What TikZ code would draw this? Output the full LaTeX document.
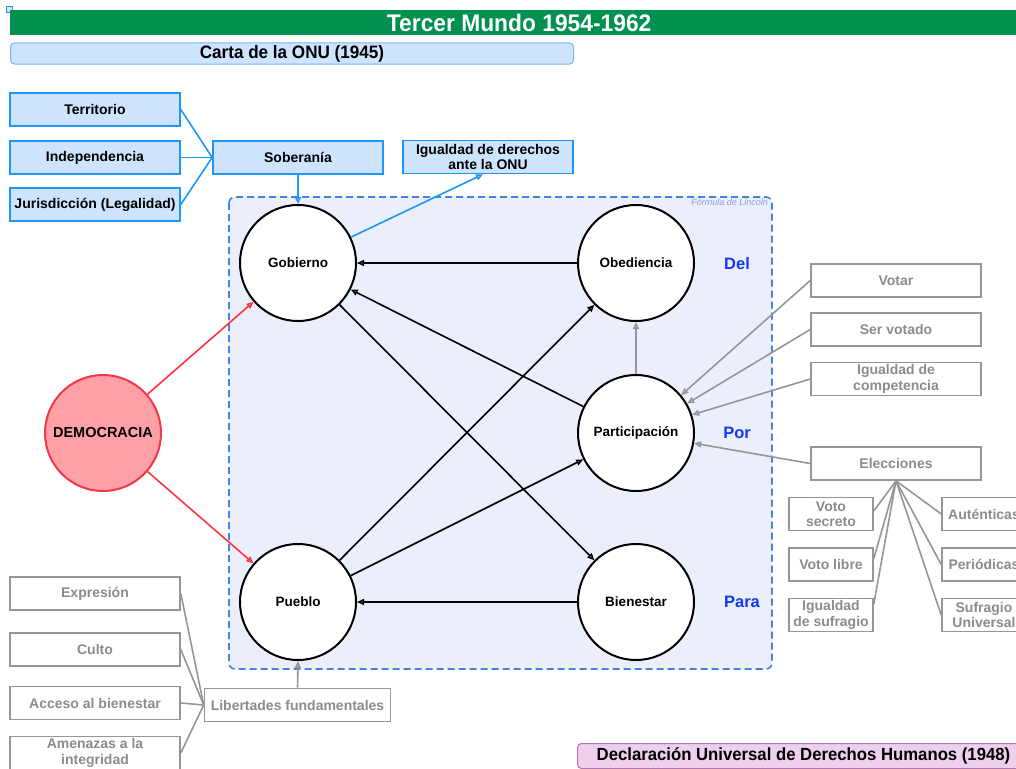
\documentclass[tikz,border=0pt]{standalone}
\usepackage{fontspec}
\setmainfont{Liberation Sans}
\newfontfamily\condfont[FakeStretch=0.95]{Liberation Sans}
\usetikzlibrary{arrows.meta}
\definecolor{titlegreen}{RGB}{0,145,80}
\definecolor{fillblue}{RGB}{205,228,252}
\definecolor{boxblue}{RGB}{30,150,250}
\definecolor{cartaborder}{RGB}{120,180,250}
\definecolor{frameblue}{RGB}{70,130,225}
\definecolor{framefill}{RGB}{234,239,251}
\definecolor{lincoln}{RGB}{140,155,230}
\definecolor{grayline}{RGB}{150,150,150}
\definecolor{graytext}{RGB}{140,140,140}
\definecolor{demfill}{RGB}{255,160,166}
\definecolor{demline}{RGB}{240,56,72}
\definecolor{demarrow}{RGB}{255,50,64}
\definecolor{dpblue}{RGB}{20,55,240}
\definecolor{declfill}{RGB}{238,208,238}
\definecolor{declborder}{RGB}{175,120,175}
\tikzset{
  bluebox/.style={draw=boxblue, fill=fillblue, line width=1.6pt, minimum width=170pt,
    minimum height=33pt, inner sep=0pt, align=center,
    font=\bfseries\fontsize{14}{15.5}\selectfont},
  graybox/.style={draw=grayline, fill=white, line width=1.6pt, minimum width=170pt,
    minimum height=33pt, inner sep=0pt, align=center, text=graytext,
    font=\bfseries\fontsize{14}{15.5}\selectfont},
  smallgray/.style={graybox, minimum width=84pt},
  circ/.style={circle, draw=black, fill=white, line width=2pt, minimum size=116pt,
    inner sep=0pt, font=\bfseries\fontsize{13.5}{15}\selectfont},
  openarrow/.style={-{Triangle[open,length=7pt,width=6pt]}, line width=1.6pt},
  dpl/.style={text=dpblue, font=\bfseries\fontsize{16.5}{18}\selectfont},
  banner/.style={inner sep=0pt, font=\condfont\bfseries\fontsize{18}{20}\selectfont}
}
\begin{document}
\begin{tikzpicture}[x=1pt,y=-1pt]
\useasboundingbox (0,0) rectangle (1016,768);
\clip (0,0) rectangle (1016,768);

% corner handle
\node[draw=boxblue, fill=fillblue, line width=0.8pt, minimum size=6pt, inner sep=0pt] (handle) at (9,9) {};

% headers
\node[banner, fill=titlegreen, text=white, minimum width=1018pt, minimum height=25pt,
  anchor=west, font=\condfont\bfseries\fontsize{24}{26}\selectfont] (title) at (10,22.5) {Tercer Mundo 1954-1962};
\node[banner, draw=cartaborder, fill=fillblue, rounded corners=4pt, line width=1pt,
  minimum width=563pt, minimum height=21pt, anchor=west] (carta) at (10,53.5) {Carta de la ONU (1945)};
\node[banner, draw=declborder, fill=declfill, rounded corners=4pt, line width=1pt,
  minimum width=452pt, minimum height=25pt, anchor=west, font=\condfont\bfseries\fontsize{17.6}{20}\selectfont] (decl) at (577,756) {Declaración Universal de Derechos Humanos (1948)};

% frame of the Lincoln formula
\draw[frameblue, fill=framefill, line width=1.6pt, dash pattern=on 7pt off 4pt, rounded corners=6pt]
  (229,197) rectangle (772,669);
\node[anchor=north east, inner sep=0pt, text=lincoln, font=\itshape\fontsize{9}{10}\selectfont] (lincoln) at (768,199) {Fórmula de Lincoln};

% sovereignty boxes
\node[bluebox] (terr) at (95,109.5) {Territorio};
\node[bluebox] (indep) at (95,157.5) {Independencia};
\node[bluebox] (juris) at (95,204.5) {Jurisdicción (Legalidad)};
\node[bluebox] (sob) at (298,157.5) {Soberanía};
\node[bluebox] (igu) at (488,157) {Igualdad de derechos\\ante la ONU};

% circles
\node[circ] (gob) at (298,263) {Gobierno};
\node[circ] (obe) at (636,263) {Obediencia};
\node[circ] (par) at (636,433) {Participación};
\node[circ] (pue) at (298,602) {Pueblo};
\node[circ] (bie) at (636,602) {Bienestar};
\node[circ, fill=demfill, draw=demline, font=\bfseries\fontsize{14.5}{16}\selectfont] (dem) at (103,433) {DEMOCRACIA};

\node[dpl] (del) at (737,264) {Del};
\node[dpl] (por) at (737,433) {Por};
\node[dpl] (para) at (742,602) {Para};

% right-hand boxes
\node[graybox] (votar) at (896,280.5) {Votar};
\node[graybox] (servot) at (896,329.5) {Ser votado};
\node[graybox] (igcomp) at (896,379) {Igualdad de\\competencia};
\node[graybox] (elec) at (896,463.5) {Elecciones};
\node[smallgray] (vsec) at (831,514) {Voto\\secreto};
\node[smallgray] (vlib) at (831,564.5) {Voto libre};
\node[smallgray] (igsuf) at (831,615) {Igualdad\\de sufragio};
\node[smallgray] (aut) at (984,514) {Auténticas};
\node[smallgray] (per) at (984,564.5) {Periódicas};
\node[smallgray] (sufu) at (984,615) {Sufragio\\Universal};

% lower-left boxes
\node[graybox] (expr) at (95,593.5) {Expresión};
\node[graybox] (culto) at (95,649.5) {Culto};
\node[graybox] (acceso) at (95,703) {Acceso al bienestar};
\node[graybox] (amen) at (95,753) {Amenazas a la\\integridad};
\node[graybox, minimum width=186pt] (lib) at (297.5,705) {Libertades fundamentales};

% blue connectors
\begin{scope}[boxblue, line width=1.6pt]
  \draw (terr.east) -- (sob.west);
  \draw (indep.east) -- (sob.west);
  \draw (juris.east) -- (sob.west);
  \draw[openarrow] (sob.south) -- (gob.north);
  \draw[openarrow] (gob.26) -- ([xshift=-5pt]igu.south);
\end{scope}

% black connectors
\draw[openarrow] (obe) -- (gob);
\draw[openarrow] (bie) -- (pue);
\draw[openarrow] (par) -- (gob);
\draw[openarrow] (gob) -- (bie);
\draw[openarrow] (pue) -- (obe);
\draw[openarrow] (pue) -- (par);

% red connectors
\draw[openarrow, demarrow] (dem) -- (gob);
\draw[openarrow, demarrow] (dem) -- (pue);

% gray connectors
\begin{scope}[grayline, line width=1.6pt]
  \draw[openarrow] (par) -- (obe);
  \draw[openarrow] (votar.west) -- (par.40);
  \draw[openarrow] (servot.west) -- (par.30);
  \draw[openarrow] (igcomp.west) -- (par.18);
  \draw[openarrow] (elec.west) -- (par.-10);
  \draw[openarrow] (lib.north) -- (pue.south);
  \draw (elec.south) -- ([yshift=3pt]vsec.east);
  \draw (elec.south) -- ([yshift=6pt]vlib.east);
  \draw (elec.south) -- ([yshift=11pt]igsuf.east);
  \draw (elec.south) -- (aut.west);
  \draw (elec.south) -- (per.west);
  \draw (elec.south) -- (sufu.west);
  \draw (expr.east) -- (lib.west);
  \draw (culto.east) -- (lib.west);
  \draw (acceso.east) -- (lib.west);
  \draw (amen.east) -- (lib.west);
\end{scope}
\end{tikzpicture}
\end{document}
